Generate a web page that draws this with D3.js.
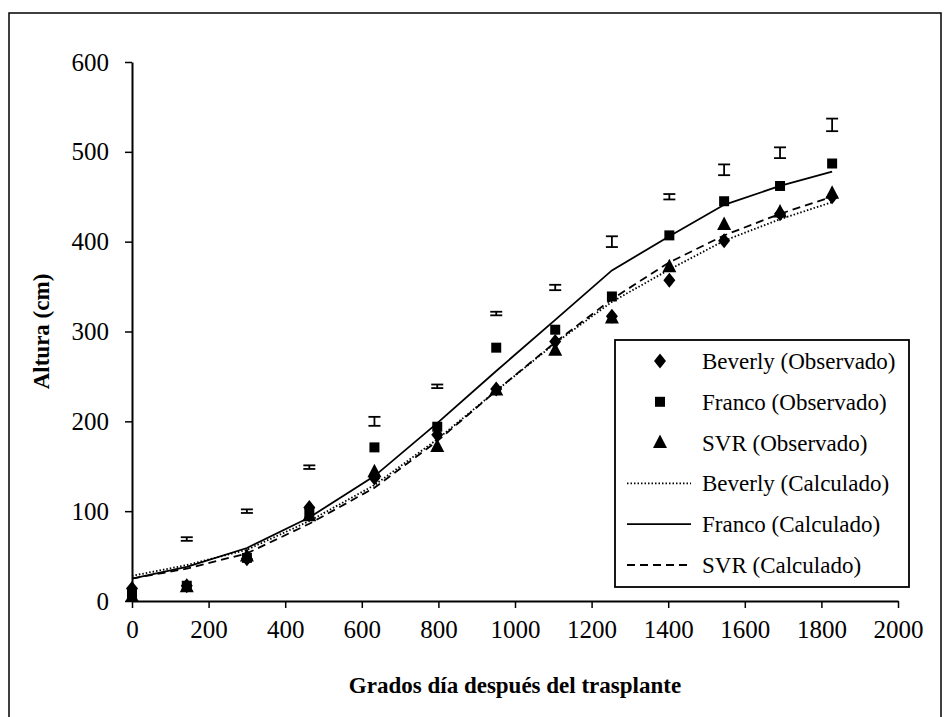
<!DOCTYPE html>
<html>
<head>
<meta charset="utf-8">
<script src="https://cdn.jsdelivr.net/npm/d3@7"></script>
</head>
<body style="margin:0">
<div id="chart"></div>
<script>
// grados día (eje x) de cada muestreo
const gradosDia = [0, 143, 300, 463, 633, 797, 951, 1105, 1253, 1403, 1546, 1692, 1828];

// alturas observadas (cm)
const beverlyObs = [14, 17, 47, 104, 137, 185, 236, 289, 317, 357, 401, 431, 450];
const francoObs = [8, 17, 48, 98, 171, 194, 282, 302, 339, 407, 445, 462, 487];
const svrObs = [5, 16, 50, 95, 144, 172, 235, 279, 315, 372, 419, 433, 454];

// alturas calculadas (cm)
const beverlyCalc = [28, 40, 57, 89, 129, 180, 234, 287, 333, 369, 401, 425, 444];
const francoCalc = [25, 38, 59, 93, 139, 198, 256, 313, 368, 406, 441, 462, 478];
const svrCalc = [25, 36, 53, 86, 126, 178, 234, 288, 336, 377, 407, 431, 450];

// barras de error (centro y semiamplitud)
const errCentro = [null, 69, 100, 149, 200, 239, 320, 349, 400, 450, 480, 499, 530];
const errSemi = [null, 2, 2, 2, 5, 2, 2, 3, 6, 3, 6, 6, 7];

const xTicks = [0, 200, 400, 600, 800, 1000, 1200, 1400, 1600, 1800, 2000];
const yTicks = [0, 100, 200, 300, 400, 500, 600];

const legendLabels = [
  "Beverly (Observado)", "Franco (Observado)", "SVR (Observado)",
  "Beverly (Calculado)", "Franco (Calculado)", "SVR (Calculado)"
];

const serif = size => `font-family: "Times New Roman"; font-size: ${size}px`;

const width = 950, height = 717;
const margin = { left: 132, right: 52, top: 62, bottom: 116 };

const svg = d3.select("#chart").append("svg")
  .attr("width", width)
  .attr("height", height);

// marco exterior
svg.append("rect")
  .attr("x", 9).attr("y", 13)
  .attr("width", 932).attr("height", 710)
  .attr("fill", "none").attr("stroke", "#000").attr("stroke-width", 1.5);

const x = d3.scaleLinear().domain([0, 2000]).range([margin.left, width - margin.right]);
const y = d3.scaleLinear().domain([0, 600]).range([height - margin.bottom, margin.top]);

// ejes
const xAxis = svg.append("g")
  .attr("transform", `translate(0,${y(0)})`)
  .call(d3.axisBottom(x).tickValues(xTicks).tickFormat(d3.format("d"))
    .tickSize(7).tickPadding(12).tickSizeOuter(0));
const yAxis = svg.append("g")
  .attr("transform", `translate(${x(0)},0)`)
  .call(d3.axisLeft(y).tickValues(yTicks).tickFormat(d3.format("d"))
    .tickSize(7).tickPadding(16).tickSizeOuter(0));

[xAxis, yAxis].forEach(g => {
  g.attr("font-family", null).attr("font-size", null);
  g.select(".domain").attr("stroke", "#000").attr("stroke-width", 2);
  g.selectAll(".tick line").attr("stroke", "#000").attr("stroke-width", 1.5);
  g.selectAll(".tick text")
    .attr("fill", "#000")
    .attr("style", serif(25));
});

svg.append("text")
  .attr("x", x(1000)).attr("y", 693)
  .attr("text-anchor", "middle")
  .attr("style", serif(23) + "; font-weight: bold")
  .text("Grados d\u00eda despu\u00e9s del trasplante");

svg.append("text")
  .attr("transform", `translate(49,${y(300)}) rotate(-90)`)
  .attr("text-anchor", "middle")
  .attr("style", serif(23) + "; font-weight: bold")
  .text("Altura (cm)");

// líneas calculadas
const line = d3.line()
  .x((d, i) => x(gradosDia[i]))
  .y(d => y(d));

const calcSeries = [
  { vals: beverlyCalc, dash: "1.5,2" },
  { vals: francoCalc, dash: null },
  { vals: svrCalc, dash: "8,5" }
];

svg.selectAll(".calc").data(calcSeries).join("path")
  .attr("class", "calc")
  .attr("d", d => line(d.vals))
  .attr("fill", "none")
  .attr("stroke", "#000")
  .attr("stroke-width", 1.8)
  .attr("stroke-dasharray", d => d.dash);

// barras de error
const errData = gradosDia.map((g, i) => ({ g, c: errCentro[i], s: errSemi[i] }))
  .filter(d => d.c !== null);
const eb = svg.selectAll(".err").data(errData).join("g").attr("class", "err")
  .attr("stroke", "#000").attr("stroke-width", 1.8);
eb.append("line")
  .attr("x1", d => x(d.g)).attr("x2", d => x(d.g))
  .attr("y1", d => y(d.c - d.s)).attr("y2", d => y(d.c + d.s));
eb.append("line")
  .attr("x1", d => x(d.g) - 6).attr("x2", d => x(d.g) + 6)
  .attr("y1", d => y(d.c - d.s)).attr("y2", d => y(d.c - d.s));
eb.append("line")
  .attr("x1", d => x(d.g) - 6).attr("x2", d => x(d.g) + 6)
  .attr("y1", d => y(d.c + d.s)).attr("y2", d => y(d.c + d.s));

// símbolos observados
const diamond = "M0,-7.5L6,0L0,7.5L-6,0Z";
const square = "M-5,-5H5V5H-5Z";
const triangle = "M0,-8L7,5.5H-7Z";

const obsSeries = [
  { vals: francoObs, path: square },
  { vals: beverlyObs, path: diamond },
  { vals: svrObs, path: triangle }
];

obsSeries.forEach(s => {
  svg.append("g").selectAll("path").data(s.vals).join("path")
    .attr("d", s.path)
    .attr("transform", (d, i) => `translate(${x(gradosDia[i])},${y(d)})`)
    .attr("fill", "#000");
});

// leyenda
const lg = svg.append("g").attr("transform", "translate(615,340)");
lg.append("rect")
  .attr("width", 294).attr("height", 247)
  .attr("fill", "#fff").attr("stroke", "#000").attr("stroke-width", 1.8);

const legendItems = [
  { sym: diamond }, { sym: square }, { sym: triangle },
  { dash: "1.5,2" }, { dash: null }, { dash: "8,5" }
];

const rowY = d3.scaleLinear().domain([0, 5]).range([21, 225]);

legendItems.forEach((it, i) => {
  const cy = rowY(i);
  if (it.sym) {
    lg.append("path").attr("d", it.sym)
      .attr("transform", `translate(45,${cy})`)
      .attr("fill", "#000");
  } else {
    lg.append("line")
      .attr("x1", 12).attr("x2", 76)
      .attr("y1", cy).attr("y2", cy)
      .attr("stroke", "#000").attr("stroke-width", 1.8)
      .attr("stroke-dasharray", it.dash);
  }
  lg.append("text")
    .attr("x", 87).attr("y", cy + 8)
    .attr("style", serif(23))
    .text(legendLabels[i]);
});
</script>
</body>
</html>
